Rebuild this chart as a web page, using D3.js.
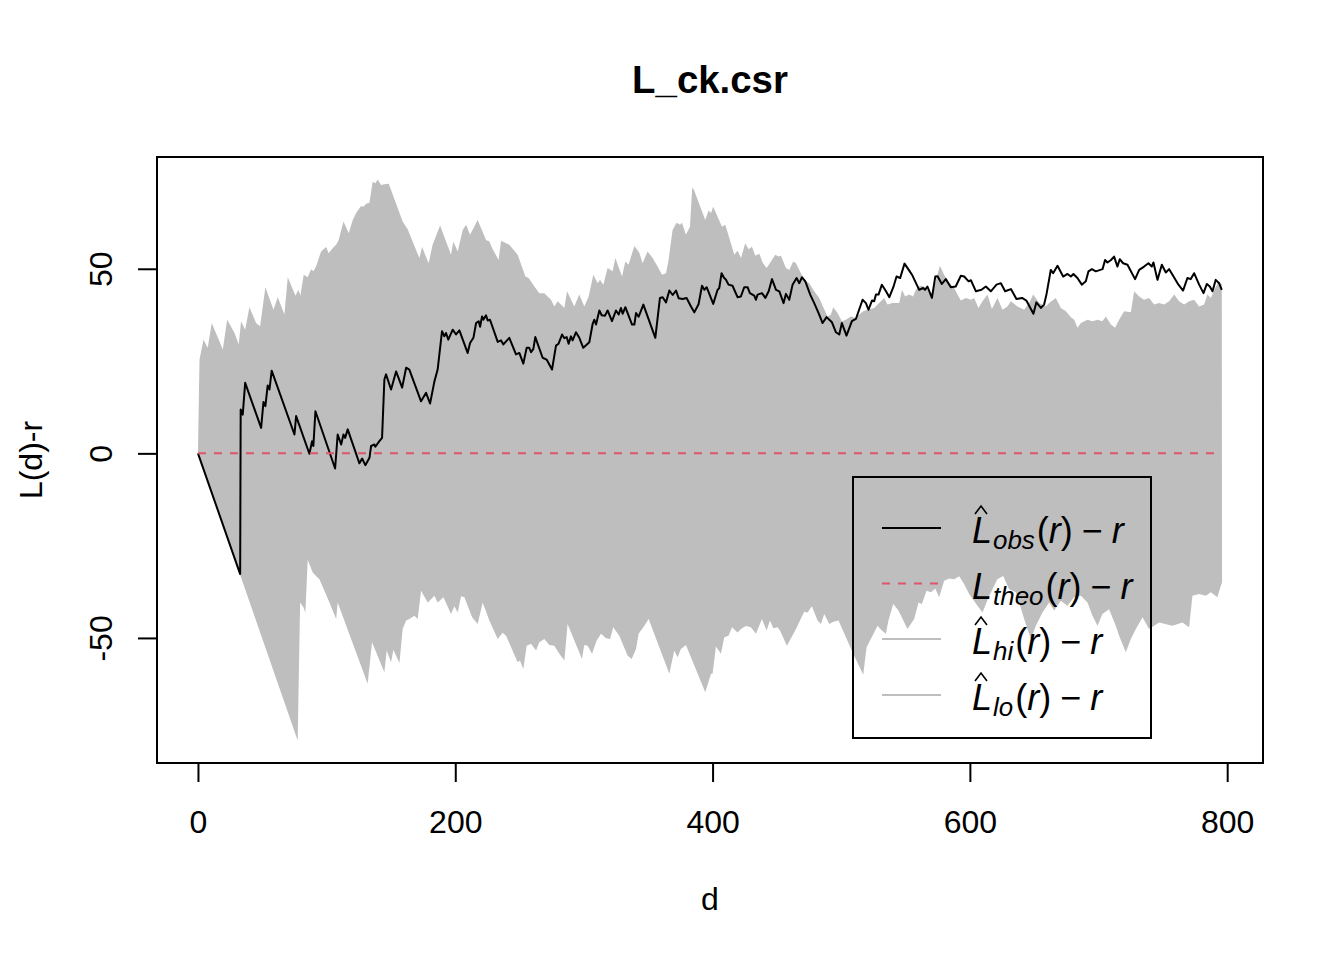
<!DOCTYPE html>
<html><head><meta charset="utf-8">
<script src="https://cdn.jsdelivr.net/npm/d3@7"></script>
<style>
html,body{margin:0;padding:0;background:#fff;}
svg{display:block;font-family:"Liberation Sans",Arial,Helvetica,sans-serif;}
</style></head>
<body>
<svg id="chart" width="1344" height="960"></svg>
<script>
// ---- data (r, value) ----
const titleText = "L_ck.csr";
const xLabel = "d";
const yLabel = "L(d)-r";
const xTicks = [0, 200, 400, 600, 800];
const yTicks = [-50, 0, 50];
const rMax = 796;

const hiEnvelope = [[0,0],[1.2,25.4],[4.3,30.8],[7.6,28.6],[10.7,35.3],[19.3,28.1],[22.7,36.2],[28.4,32.6],[31.7,29.5],[33.5,35.8],[36.7,33.5],[40,39.6],[45.2,35.3],[48.3,34.4],[52.4,45.0],[58.7,38.9],[62,42.3],[67.2,37.6],[69.8,47.7],[75.8,42.7],[78.1,44.3],[79.6,42.7],[82.2,48.4],[85.3,47.7],[88,49.9],[89.7,49.3],[91.8,50.6],[95.7,54.7],[99.6,55.9],[101.6,54.2],[104.8,55.6],[107.4,56.5],[109.4,57.8],[113.1,62.8],[117.2,59.6],[120.3,63.2],[122.9,65.1],[126.8,67.0],[128.6,66.8],[130.7,67.6],[133.3,67.9],[135.8,73.6],[137.9,73.2],[139.7,74.2],[142.3,72.7],[144.9,72.9],[148.3,73.0],[159.1,62.8],[163,60.7],[172.1,52.9],[174.2,55.9],[179.3,51.5],[182.4,56.5],[188.2,61.7],[196.7,53.8],[198.5,57.4],[201.9,54.7],[205.8,60.5],[208.4,61.9],[211.5,59.2],[217.4,63.2],[223.9,57.8],[226.5,57.4],[229.1,55.3],[233.7,52.4],[235.6,57.6],[239.5,56.9],[242,56.5],[248.5,53.8],[254.5,47.9],[257,47.5],[261.5,45.2],[265.3,43.4],[269.2,43.4],[274.4,41.6],[277,39.8],[279.6,41.2],[284.8,39.4],[286.9,43.9],[292.5,39.8],[296.4,43],[300.3,39.8],[303.7,42.5],[307.3,48.4],[310.7,46.1],[312.5,47],[315.1,45.7],[318.4,50.2],[322.3,49.3],[324.4,52.9],[329.6,47.9],[332.2,52],[334.7,51.1],[339.2,56.2],[343,54.4],[345.6,51.5],[349.5,54.7],[353.4,52.9],[357.3,50.6],[360.7,48.4],[363.8,48.8],[365.8,52.4],[368.9,60.5],[372,62.5],[374.7,61.9],[376.2,62.5],[379.3,59.2],[382.4,61.4],[384.2,72],[385.5,71.4],[394.3,63.2],[396.9,65.8],[398.8,65.1],[400.5,66.8],[407.3,61.4],[409.9,61.9],[416.9,53.8],[419.4,54.9],[422.1,52.9],[425.4,56.9],[428,55.3],[430.6,56],[433.2,53.5],[436.3,54.1],[438.9,51.7],[442,50.2],[445.4,52],[448.7,53.8],[451.3,53.3],[453.1,53.5],[457,50.2],[459.6,49.7],[462.7,52],[464.8,51.5],[469.9,47.9],[472.6,46.6],[475.1,46.1],[479,43.9],[482.9,42.1],[485.5,40],[489.4,37.1],[492,37.6],[493.8,39.6],[497.1,38],[500.5,35.8],[503.6,36.2],[507.5,37.1],[511.4,36.7],[514,37.6],[517.1,38.5],[520.4,38.9],[525.6,39.4],[529.5,40.7],[533.4,42.1],[536,40.3],[539.9,40.7],[545.1,40.7],[547.2,44.3],[549.7,42.5],[552.8,43],[555.9,42.5],[558,44.3],[561.2,45.4],[564.5,45.2],[567.1,44.3],[569.7,43],[572.3,45.2],[576.7,50.8],[580,48.4],[583.9,46.1],[587.8,44.8],[590.4,43],[593,41.4],[596.9,42.1],[600.8,41.6],[603.3,42.1],[606.7,39.4],[609.8,41.2],[613.7,43],[617.1,39.1],[621.5,42.1],[625.3,38.9],[629.2,39.8],[631.9,41.2],[637,39.8],[642.2,38.9],[646.1,40.7],[649.2,43],[653.9,40.7],[659.1,39.8],[661.6,40.7],[666.8,42.1],[670.7,39.4],[674.6,38.5],[678.5,36.9],[681.1,36.2],[683.6,34],[686.3,35.3],[691.4,36.2],[695.3,35.8],[699.2,36.2],[703,35.8],[705.7,37.1],[709.6,34.9],[712.9,34],[716,36.2],[719.9,38.5],[725.1,38.2],[727.7,43.9],[731.6,42.5],[735.4,41.6],[739.3,42.1],[743.2,40.3],[747.1,40.7],[751,40.3],[754.9,41.2],[758.8,43],[762.6,41.2],[766.5,40.3],[770.4,41.2],[774.3,41.6],[778.2,39.8],[782.1,40.3],[784.6,43],[787.3,42.1],[790.6,44.8],[793.7,46.6],[795.8,45.7]];

const loEnvelope = [[0,0],[77.5,-77.8],[79.4,-40.4],[82,-41.7],[83.5,-43.1],[85.3,-28.8],[89.2,-32.3],[91.8,-33.2],[94.4,-34.1],[98.3,-37.2],[102.2,-40.4],[107.4,-44.9],[108.6,-40.4],[131.9,-62.4],[135.3,-51.2],[144.9,-59.3],[146.7,-53.4],[150.1,-56.6],[151.9,-53.2],[156.6,-56.8],[159.1,-47.6],[161.8,-45.3],[164.3,-44.9],[168.2,-44],[170.8,-44.9],[173.4,-37.2],[178.6,-40.4],[181.2,-39.5],[183.8,-38.6],[186.3,-40.4],[190.8,-39],[196.7,-43.5],[199.3,-41.4],[201.9,-43.1],[204.5,-38.7],[207.1,-39],[213.1,-44.4],[217.4,-46.2],[221.3,-40.4],[226.5,-45.3],[233,-50.3],[236.8,-48.6],[239.5,-49.4],[248.5,-56.6],[250.3,-56.1],[252.9,-58.4],[255.5,-52.1],[258.9,-51.6],[262.8,-53.4],[265.3,-51.2],[269.2,-50.3],[273.1,-51.9],[277,-52.1],[280.9,-54.3],[284.8,-56.1],[287.3,-46.2],[298.5,-55.7],[300.3,-51.9],[302.9,-52.1],[306.3,-54.3],[309.9,-50.7],[313.3,-48.9],[317.2,-50.1],[320.3,-50.3],[322.8,-47.1],[327.5,-49.4],[334,-54.8],[337.1,-55.7],[340.5,-53],[342.5,-48.9],[346.2,-47.1],[350.3,-44.9],[366.4,-59.7],[370.2,-53.4],[372.8,-55.2],[375.4,-53],[379.3,-51.9],[394.3,-64.7],[398.8,-59.7],[400,-59.7],[402.6,-52.3],[406.5,-54.3],[409.1,-49.8],[412.4,-49.4],[415.1,-47.1],[419.4,-48.5],[422.1,-47.6],[425.9,-46.8],[429.8,-47.1],[433.7,-48.9],[438.4,-44.9],[442,-48],[444.6,-45.3],[447.2,-47.4],[450.5,-47.1],[452.4,-48],[457.8,-52.1],[464.8,-47.6],[471.2,-42.9],[473.8,-43.1],[477.2,-41.4],[481.6,-45.3],[484.2,-46.2],[486.8,-43.5],[490.7,-46.2],[493.8,-45.6],[497.9,-45.3],[508.8,-53.9],[517.1,-60],[519.7,-52.5],[525.6,-48.5],[528.2,-46.7],[531.6,-48],[534.7,-48.9],[536.7,-45.3],[540.4,-40.8],[544.5,-42.6],[551.5,-47.6],[556.7,-44.9],[560.1,-40.4],[562.7,-40.8],[566.3,-37.2],[569.7,-37.6],[573.1,-36.6],[576.1,-39],[580,-34.5],[583.9,-33.9],[587.8,-34.1],[591.7,-33.3],[595.5,-35.4],[599.4,-38.1],[605.9,-41.3],[609.8,-43.1],[615,-38.6],[621.4,-34.1],[625.9,-33.2],[630.5,-36.8],[635.8,-37.6],[642.2,-44.9],[647.4,-50.3],[651.3,-46.7],[656.4,-43.1],[661.6,-40.4],[665.5,-42.6],[670.7,-39.9],[675.8,-41.3],[681,-39],[686.3,-38.6],[691.4,-40.4],[695.3,-44],[699.2,-46.7],[703,-43.5],[708.2,-42.2],[713.4,-46.7],[716,-49.4],[721.2,-53.9],[725.1,-50.3],[729,-47.6],[734.2,-44.4],[739.3,-47.6],[747.1,-45.8],[757.4,-46.7],[765.2,-45.8],[770.4,-47.1],[773,-38.6],[778.2,-38.1],[783.4,-38.6],[787.3,-37.6],[792.4,-39],[795,-35.9],[796,-35]];

const obsCurve = [[0,0],[32.8,-32.7],[33.2,11.9],[34.8,10.5],[36.7,19.1],[49.1,6.9],[50.9,13.9],[52.4,12.8],[54.2,18.4],[55.6,17.3],[57.3,22.4],[75,5.1],[76.3,10.1],[86.6,-0.1],[88.7,3.3],[89.7,2],[91.3,11.4],[106.6,-4.1],[108.6,5.1],[111.3,2.4],[113.1,5.1],[114.4,4.2],[116.4,6.5],[125.5,-2.7],[127.6,-1.4],[130.1,-3.2],[133.3,-1.2],[134.6,2],[137.1,2.4],[137.9,1.8],[141,3.3],[143.1,4.2],[144.9,20],[146.2,21.4],[150.1,17.3],[154,22.2],[158.7,17.8],[161.8,23.2],[164.3,22.7],[173.4,14.1],[177.3,16.4],[180.4,13.5],[183.8,19.5],[186.3,22.7],[189.7,33.1],[191.5,31.7],[192.8,32.6],[194.6,30.8],[198,33.5],[200.6,32.2],[203.2,33.3],[209.6,27.2],[211.5,29.9],[214.1,31.3],[216.2,35.3],[218.2,35.8],[219.3,34.3],[220.8,37.1],[221.8,36.2],[223.9,37.4],[225.2,36],[227,36.2],[233,30.2],[235.6,30.6],[237.4,29.5],[242,31.3],[247.2,26.8],[249.8,27.2],[252.9,24.3],[255.5,28.6],[257.5,28.6],[258.9,27.4],[260.7,28.3],[262.2,31.5],[267.9,25.9],[271,25.4],[275.2,22.7],[278.3,29.2],[280.3,29.7],[283,32.2],[284.8,31.2],[286.6,31.5],[288.1,29.7],[289.9,31.7],[291.2,30.6],[293.8,32.8],[296.4,31.3],[299.5,28.6],[304.2,30.1],[306.8,35.1],[308.1,36.2],[309.4,34.9],[312,38.7],[313.8,37.4],[316.4,37.3],[318.4,38.7],[321.8,35.8],[324.9,38.7],[327,37.6],[328.8,39.4],[330.1,37.8],[332.2,39.6],[337.4,34.9],[339.2,34.9],[340.5,38],[342.5,37],[346.2,40.3],[355.5,31.3],[359.1,42.1],[361.2,42.3],[363.8,40.9],[366.4,44.1],[369,42.9],[371.6,44.1],[373.7,42],[376.7,41.8],[379.8,42.1],[383.2,39.8],[385.8,38.2],[389.1,40.4],[391.8,45.4],[393.6,44.3],[395.4,45],[400.5,40.5],[403.9,44.3],[405.2,44.8],[407,48.8],[409,47.5],[410.3,47.1],[412.4,45.7],[415.5,45.4],[419.4,42.3],[422,42.5],[424.6,45],[427.2,45],[429,43.4],[432.4,42.7],[433.7,41.6],[435,43],[438.4,43.4],[441,42.1],[443.6,43.9],[446.2,47.2],[449.3,44.3],[451.9,43.9],[455.2,40.7],[457,43.2],[459.6,41.6],[462.2,45.7],[465.3,47.5],[467.4,46.1],[469.5,47.7],[472.1,46.6],[475.9,43],[479,40.7],[482.4,38],[485.5,35.3],[488.6,36.9],[492.8,35.5],[495.9,32.8],[498.5,32.2],[500.5,35.3],[504.1,31.9],[508.3,35.8],[511.4,36.4],[516.6,41.6],[519.2,40.7],[521.2,38.9],[523.9,41.4],[525.6,41.2],[527,43],[529,43],[531.6,45.7],[534.8,43.9],[537.4,42.3],[540.5,45],[543,47.9],[545.8,47.5],[549.2,51.4],[552.5,49.7],[555,48.4],[560.6,44.3],[563.6,44.8],[565.1,44.3],[567,45.2],[570.5,42.1],[573.1,47.9],[574.9,48],[578.2,45.9],[581.3,47.2],[585.2,45],[589,45.2],[593,48.1],[595.6,47.9],[599,46.6],[600.8,46.9],[604.7,43.9],[609,44.3],[612.4,45.2],[616.3,43.9],[620.7,45.7],[624.1,46.1],[627.4,43.9],[631.9,44.5],[636.2,41.8],[640.6,42.1],[643.9,41.4],[649.4,37.8],[651.7,40.9],[655.2,39.4],[657.7,40.3],[659.5,43],[662.9,49.7],[664.7,48.8],[668.1,50.8],[672.5,47.9],[675.9,48.6],[678.5,47.9],[680.5,48.6],[683.6,47.5],[687,45.7],[690.1,46.6],[692.2,49.3],[694.8,49.9],[697.9,49.3],[703.1,49.9],[705.1,52.4],[706.9,51.7],[709.5,52.3],[712.1,53.3],[714.7,50.6],[716.5,52.6],[719.1,51.5],[722.5,51.1],[728.4,47.2],[731.6,49.7],[735.4,50.6],[738.8,51.5],[741.4,50.6],[742.7,51.7],[745.8,47],[749.2,51.1],[752.3,49],[754.9,49.9],[757.5,48.4],[762.1,45.7],[765.7,44.1],[769.1,47.5],[771.7,47.2],[774.3,48.8],[778.2,45.7],[781.6,43.4],[784.2,45.9],[786.5,45.2],[788.6,43.9],[791.1,47],[793.7,46.1],[795.8,44.3]];

const theoCurve = [[0,0],[rMax,0]];

const legendItems = [
  {sub:"obs", hat:true,  color:"#000000", dash:null},
  {sub:"theo", hat:false, color:"#DF536B", dash:"8,8"},
  {sub:"hi", hat:true,  color:"#BEBEBE", dash:null},
  {sub:"lo", hat:true,  color:"#BEBEBE", dash:null}
];

// ---- layout ----
const box = {left:157, right:1263, top:157, bottom:763};
const allY = hiEnvelope.concat(loEnvelope, obsCurve).map(d=>d[1]);
const yMin = d3.min(allY), yMax = d3.max(allY);
const xPad = 0.04*rMax, yPad = 0.04*(yMax-yMin);
const x = d3.scaleLinear().domain([-xPad, rMax+xPad]).range([box.left, box.right]);
const y = d3.scaleLinear().domain([yMin-yPad, yMax+yPad]).range([box.bottom, box.top]);

const svg = d3.select("#chart");
const FS = 32;

// envelope polygon
const poly = hiEnvelope.concat(loEnvelope.slice().reverse());
svg.append("path")
  .attr("d", d3.line().x(d=>x(d[0])).y(d=>y(d[1]))(poly) + "Z")
  .attr("fill", "#BEBEBE").attr("stroke", "none");

const line = d3.line().x(d=>x(d[0])).y(d=>y(d[1]));
svg.append("path").attr("d", line(obsCurve)).attr("fill","none")
  .attr("stroke","#000").attr("stroke-width",2).attr("stroke-linejoin","round");
svg.append("path").attr("d", line(theoCurve)).attr("fill","none")
  .attr("stroke","#DF536B").attr("stroke-width",2).attr("stroke-dasharray","8,8");

// box
svg.append("rect").attr("x",box.left).attr("y",box.top)
  .attr("width",box.right-box.left).attr("height",box.bottom-box.top)
  .attr("fill","none").attr("stroke","#000").attr("stroke-width",2);

// axes
const xAxis = d3.axisBottom(x).tickValues(xTicks).tickSize(19).tickSizeOuter(0);
const gx = svg.append("g").attr("transform",`translate(0,${box.bottom})`).call(xAxis);
gx.select(".domain").attr("d", `M${x(xTicks[0])},0H${x(xTicks[xTicks.length-1])}`).attr("stroke-width",2);
gx.selectAll(".tick line").attr("stroke-width",2);
gx.selectAll("text").attr("font-size",FS).attr("font-family","Liberation Sans, Arial, sans-serif").attr("fill","#000")
  .attr("dy",null).attr("y",70);

const yAxis = d3.axisLeft(y).tickValues(yTicks).tickSize(19).tickSizeOuter(0).tickFormat(d=>String(d));
const gy = svg.append("g").attr("transform",`translate(${box.left},0)`).call(yAxis);
gy.select(".domain").attr("d", `M0,${y(yTicks[0])}V${y(yTicks[yTicks.length-1])}`).attr("stroke-width",2);
gy.selectAll(".tick line").attr("stroke-width",2);
gy.selectAll(".tick text")
  .attr("x",null).attr("dy",null)
  .attr("transform","translate(-45,0) rotate(-90)")
  .attr("text-anchor","middle").attr("font-size",FS).attr("fill","#000")
  .attr("font-family","Liberation Sans, Arial, sans-serif");
gy.selectAll(".tick text").attr("y",0);

// titles
svg.append("text").attr("x",(box.left+box.right)/2).attr("y",93).attr("text-anchor","middle")
  .attr("font-size",38.4).attr("font-weight","bold").text(titleText);
svg.append("text").attr("x",(box.left+box.right)/2).attr("y",910).attr("text-anchor","middle")
  .attr("font-size",FS).text(xLabel);
svg.append("text").attr("transform",`translate(42,${(box.top+box.bottom)/2}) rotate(-90)`)
  .attr("text-anchor","middle").attr("font-size",FS).text(yLabel);

// legend
const LFS = 36;
const lg = {left:853, right:1151, top:477, bottom:738};
svg.append("rect").attr("x",lg.left).attr("y",lg.top).attr("width",lg.right-lg.left).attr("height",lg.bottom-lg.top)
  .attr("fill","none").attr("stroke","#000").attr("stroke-width",2);
const rowY = [528, 583.5, 639, 695];
legendItems.forEach((it,i)=>{
  const yy = rowY[i];
  const l = svg.append("line").attr("x1",882).attr("x2",941).attr("y1",yy).attr("y2",yy)
    .attr("stroke",it.color).attr("stroke-width",2);
  if (it.dash) l.attr("stroke-dasharray",it.dash);
  const base = yy + 15;
  const t = svg.append("text").attr("x",972).attr("y",base).attr("font-size",LFS).attr("fill","#000");
  t.append("tspan").attr("font-style","italic").text("L");
  t.append("tspan").attr("font-style","italic").attr("font-size",LFS*0.72).attr("dy",6).attr("dx",1).text(it.sub);
  t.append("tspan").attr("dy",-6).attr("dx",2).text("(");
  t.append("tspan").attr("font-style","italic").text("r");
  t.append("tspan").text(")");
  t.append("tspan").attr("dx",9).text("\u2212");
  t.append("tspan").attr("dx",9).attr("font-style","italic").text("r");
  if (it.hat) {
    svg.append("path").attr("d",`M975,${base-29}L981,${base-37}L987,${base-29}`)
      .attr("fill","none").attr("stroke","#000").attr("stroke-width",1.6);
  }
});
</script>
</body></html>
